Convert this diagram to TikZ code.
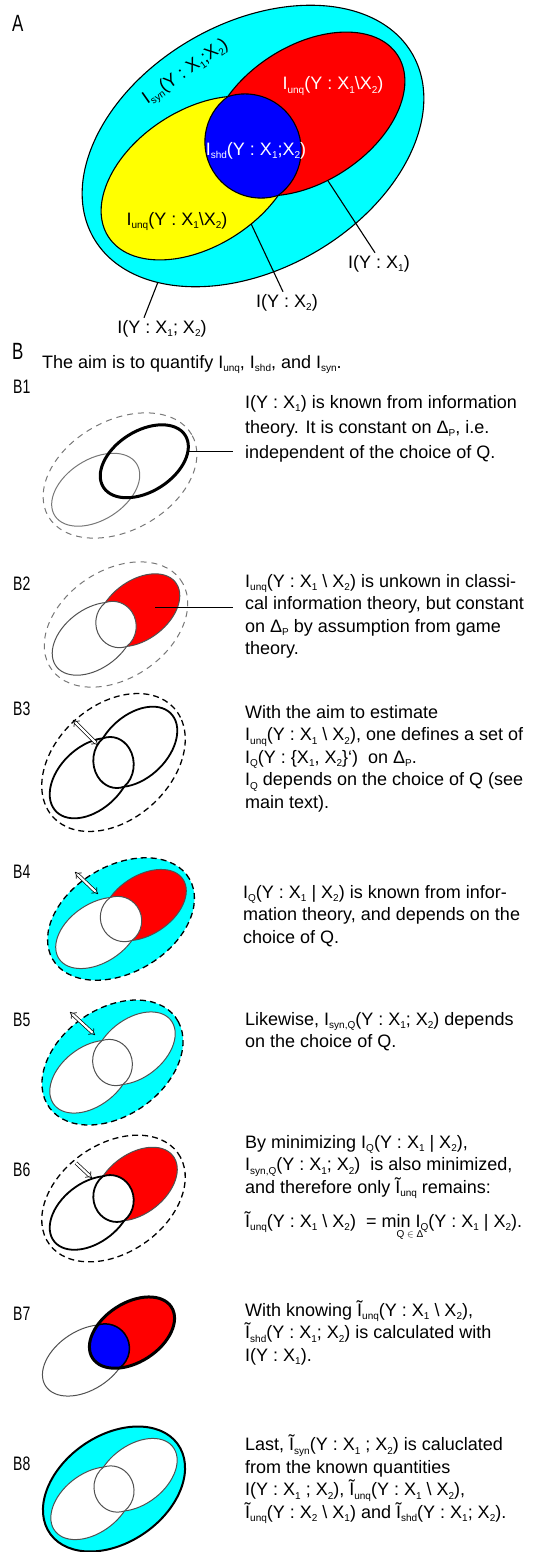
\documentclass[tikz,border=0pt]{standalone}
\usepackage{fontspec}
\setmainfont{Liberation Sans}
\newfontfamily\labfont[FakeStretch=0.72]{Liberation Sans}
\usetikzlibrary{arrows.meta}

\definecolor{dgrey}{HTML}{505050}
\definecolor{mgrey}{HTML}{777777}
\definecolor{synfill}{RGB}{0,255,255}
\definecolor{unqfill}{RGB}{255,0,0}
\definecolor{twofill}{RGB}{255,255,0}
\definecolor{shdfill}{RGB}{0,0,255}

% the sets, in the frame of panel A (origin at the centre of the big ellipse)
\newcommand\outerset{(0,0) circle[x radius=184, y radius=123, rotate=30]}
\newcommand\xoneset{(54,32) circle[x radius=108, y radius=68, rotate=33]}
\newcommand\xtwoset{(-54,-32) circle[x radius=108, y radius=68, rotate=33]}
\newcommand\shdset{(-25.2,49.4) arc[start angle=126.3, end angle=287.8, radius=56.2]
  arc[start angle=-53.7, end angle=107.8, radius=56.2] -- cycle}
\newcommand\sbs[1]{\raisebox{-3.5pt}{\fontsize{10}{10}\selectfont #1}}
\newcommand\bsl{\textbackslash}

\tikzset{
  aline/.style={draw=black, line width=1.1pt},
  thinset/.style={draw=dgrey, line width=1pt},
  boldset/.style={draw=black, line width=1.8pt},
  heavyset/.style={draw=black, line width=3pt},
  pdash/.style={draw=mgrey, line width=1pt, dash pattern=on 6pt off 5pt},
  qdash/.style={draw=black, line width=1.3pt, dash pattern=on 6pt off 4pt},
  leader/.style={draw=black, line width=1.1pt},
  varies/.style={double, double distance=2.2pt, line width=0.7pt},
  vtip/.tip={Implies[scale=1.5]},
  % multi-line nodes: placed at the baseline of their last line
  para/.style={anchor=base west, align=left, inner sep=0pt,
    font=\fontsize{18}{22.5}\selectfont},
  tag/.style={anchor=base, inner sep=2pt, font=\fontsize{18}{22}\selectfont},
  panel/.style={anchor=north west, inner sep=0pt,
    font=\labfont\fontsize{19.5}{20}\selectfont},
  bigpanel/.style={anchor=north west, inner sep=0pt,
    font=\labfont\fontsize{23.5}{24}\selectfont},
}

\begin{document}
\begin{tikzpicture}[x=1pt, y=1pt]
  \useasboundingbox (0,0) rectangle (540,-1552);

  % A
  \node[bigpanel] (pa) at (12,-15) {A};
  \begin{scope}[shift={(253,-146)}]
    \filldraw[aline, fill=synfill] \outerset;
    \filldraw[aline, fill=unqfill] \xoneset;
    \filldraw[aline, fill=twofill] \xtwoset;
    \filldraw[aline, fill=shdfill] \shdset;
    \coordinate (ax1) at (74.7,-34.4);
    \coordinate (ax2) at (-1.8,-78);
    \coordinate (ax12) at (-95.2,-136.5);
  \end{scope}
  \node[tag, anchor=center, rotate=35] (lsyn) at (186,-73)
    {I\sbs{syn}(Y : X\sbs{1};X\sbs{2})};
  \node[tag, white] (lunq1) at (333,-90) {I\sbs{unq}(Y : X\sbs{1}\bsl X\sbs{2})};
  \node[tag, white] (lshd) at (256,-155) {I\sbs{shd}(Y : X\sbs{1};X\sbs{2})};
  \node[tag] (lunq2) at (177,-225) {I\sbs{unq}(Y : X\sbs{1}\bsl X\sbs{2})};
  \node[tag] (lix1) at (379,-268) {I(Y : X\sbs{1})};
  \node[tag] (lix2) at (287,-307) {I(Y : X\sbs{2})};
  \node[tag] (lix12) at (162,-333) {I(Y : X\sbs{1}; X\sbs{2})};
  \draw[leader] (ax1) -- ([xshift=-4pt]lix1.north);
  \draw[leader] (ax2) -- ([xshift=-4pt]lix2.north);
  \draw[leader] (ax12) -- ([xshift=-18pt]lix12.north);

  % B
  \node[bigpanel] (pb) at (12,-343) {B};
  \node[para] (aim) at (42,-368)
    {The aim is to quantify I\sbs{unq}, I\sbs{shd}, and I\sbs{syn}.};

  % B1
  \node[panel] (pb1) at (13,-380) {B1};
  \begin{scope}[shift={(120,-475.5)}, xscale=.45, yscale=.445]
    \draw[pdash] \outerset;
    \draw[thinset, draw=mgrey] \xtwoset;
    \draw[heavyset] \xoneset;
    \coordinate (b1x) at (150.9,54.4);
  \end{scope}
  \node[para, font=\fontsize{18}{25}\selectfont] (b1txt) at (245,-458)
    {I(Y : X\sbs{1}) is known from information\\
     theory. It is constant on Δ\sbs{P}, i.e.\\
     independent of the choice of Q.};
  \draw[leader] (b1x) -- ([xshift=-12pt]b1x -| b1txt.west);

  % B2
  \node[panel] (pb2) at (13,-577) {B2};
  \begin{scope}[shift={(116,-624.5)}, xscale=.42, yscale=.445]
    \draw[pdash] \outerset;
    \draw[thinset] \xtwoset;
    \filldraw[thinset, fill=unqfill] \xoneset;
    \filldraw[thinset, fill=white] \shdset;
    \coordinate (b2x) at (93,37.5);
  \end{scope}
  \node[para] (b2txt) at (245,-654.5)
    {I\sbs{unq}(Y : X\sbs{1} \bsl{} X\sbs{2}) is unkown in classi-\\
     cal information theory, but constant\\
     on Δ\sbs{P} by assumption from game\\
     theory.};
  \draw[leader] (b2x) -- ([xshift=-12pt]b2x -| b2txt.west);

  % B3
  \node[panel] (pb3) at (13,-702) {B3};
  \begin{scope}[shift={(113.5,-762.5)}, xscale=.42, yscale=.49]
    \draw[qdash] \outerset;
    \draw[boldset] \xtwoset;
    \draw[boldset] \xoneset;
    \filldraw[boldset, fill=white] \shdset;
  \end{scope}
  \draw[varies, vtip-vtip] (73,-720) -- (98,-745);
  \node[para] (b3txt) at (245,-808)
    {With the aim to estimate\\
     I\sbs{unq}(Y : X\sbs{1} \bsl{} X\sbs{2}), one defines a set of\\
     I\sbs{Q}(Y : \{X\sbs{1}, X\sbs{2}\}`)~ on Δ\sbs{P}.\\
     I\sbs{Q} depends on the choice of Q (see\\
     main text).};

  % B4
  \node[panel] (pb4) at (13,-865) {B4};
  \begin{scope}[shift={(121,-919)}, xscale=.43, yscale=.435]
    \fill[synfill] \outerset;
    \filldraw[thinset, fill=white] \xtwoset;
    \filldraw[thinset, fill=unqfill] \xoneset;
    \filldraw[thinset, fill=white] \shdset;
    \draw[qdash] \outerset;
  \end{scope}
  \draw[varies, vtip-vtip] (75,-872) -- (98,-894);
  \node[para] (b4txt) at (243,-943)
    {I\sbs{Q}(Y : X\sbs{1} | X\sbs{2}) is known from infor-\\
     mation theory, and depends on the\\
     choice of Q.};

  % B5
  \node[panel] (pb5) at (13,-1013) {B5};
  \begin{scope}[shift={(112.5,-1062.5)}, xscale=.413, yscale=.444]
    \fill[synfill] \outerset;
    \filldraw[thinset, fill=white] \xtwoset;
    \filldraw[thinset, fill=white] \xoneset;
    \filldraw[thinset, fill=white] \shdset;
    \draw[qdash] \outerset;
  \end{scope}
  \draw[varies, vtip-vtip] (70,-1012) -- (95,-1035);
  \node[para] (b5txt) at (245,-1047.5)
    {Likewise, I\sbs{syn,Q}(Y : X\sbs{1}; X\sbs{2}) depends\\
     on the choice of Q.};

  % B6
  \node[panel] (pb6) at (13,-1163) {B6};
  \begin{scope}[shift={(113.5,-1198.5)}, xscale=.42, yscale=.45]
    \draw[qdash] \outerset;
    \filldraw[thinset, fill=unqfill] \xoneset;
    \draw[boldset] \xtwoset;
    \filldraw[boldset, fill=white] \shdset;
  \end{scope}
  \draw[varies, -vtip] (76,-1163) -- (92,-1178);
  \node[para] (b6txt) at (245,-1193)
    {By minimizing I\sbs{Q}(Y : X\sbs{1} | X\sbs{2}),\\
     I\sbs{syn,Q}(Y : X\sbs{1}; X\sbs{2})~ is also minimized,\\
     and therefore only Ĩ\sbs{unq} remains:};
  \node[para] (b6eq) at (245,-1227)
    {Ĩ\sbs{unq}(Y : X\sbs{1} \bsl{} X\sbs{2})~ =
     \rlap{\hspace{15pt}\raisebox{-10pt}{\fontsize{10}{10}\selectfont Q $\in$ Δ}}min
     I\sbs{Q}(Y : X\sbs{1} | X\sbs{2}).};

  % B7
  \node[panel] (pb7) at (13,-1307) {B7};
  \begin{scope}[shift={(108.5,-1346.5)}, scale=.435]
    \draw[thinset] \xtwoset;
    \fill[unqfill] \xoneset;
    \begin{scope}
      \clip \xoneset;
      \filldraw[fill=shdfill, draw=black, line width=1.5pt] \shdset;
    \end{scope}
    \draw[heavyset] \xoneset;
  \end{scope}
  \node[para] (b7txt) at (245,-1361)
    {With knowing Ĩ\sbs{unq}(Y : X\sbs{1} \bsl{} X\sbs{2}),\\
     Ĩ\sbs{shd}(Y : X\sbs{1}; X\sbs{2}) is calculated with\\
     I(Y : X\sbs{1}).};

  % B8
  \node[panel] (pb8) at (13,-1457) {B8};
  \begin{scope}[shift={(114,-1489)}, xscale=.416, yscale=.444]
    \filldraw[fill=synfill, draw=black, line width=2pt] \outerset;
    \filldraw[thinset, fill=white] \xtwoset;
    \filldraw[thinset, fill=white] \xoneset;
    \filldraw[thinset, fill=white] \shdset;
  \end{scope}
  \node[para] (b8txt) at (245,-1518)
    {Last, Ĩ\sbs{syn}(Y : X\sbs{1} ; X\sbs{2}) is caluclated\\
     from the known quantities\\
     I(Y : X\sbs{1} ; X\sbs{2}), Ĩ\sbs{unq}(Y : X\sbs{1} \bsl{} X\sbs{2}),\\
     Ĩ\sbs{unq}(Y : X\sbs{2} \bsl{} X\sbs{1}) and Ĩ\sbs{shd}(Y : X\sbs{1}; X\sbs{2}).};
\end{tikzpicture}
\end{document}
